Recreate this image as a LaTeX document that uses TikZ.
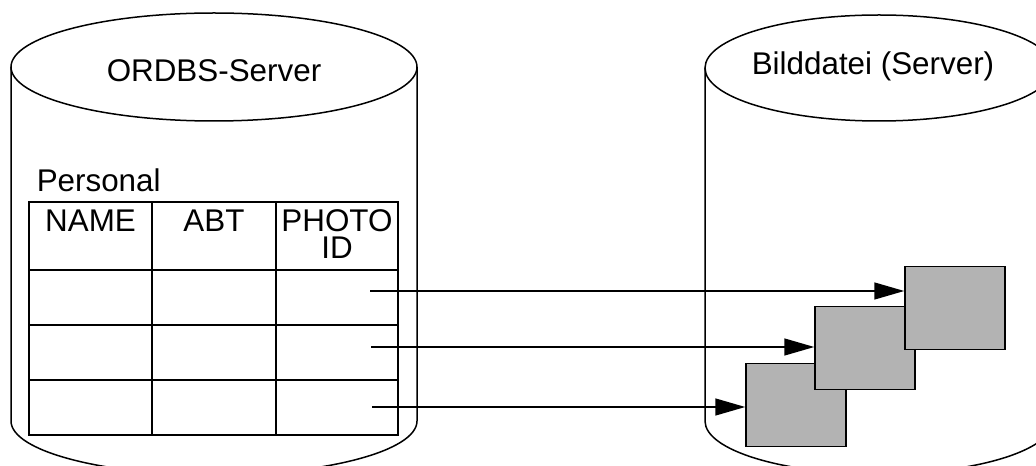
\documentclass[tikz,border=0pt]{standalone}
\usepackage{fontspec}
\setmainfont{Liberation Sans}
\usetikzlibrary{arrows.meta}
\tikzset{>={Triangle[width=17bp,length=30bp]}}
\definecolor{bildgrau}{HTML}{B3B3B3}
\tikzset{
	schrift/.style={font=\fontsize{31.5}{27}\selectfont, inner sep=0pt},
	bildbox/.style={draw, fill=bildgrau, minimum width=100bp, minimum height=83bp, inner sep=0pt},
}

\begin{document}
\begin{tikzpicture}[x=1bp, y=-1bp, line width=1.5bp]
		\clip (0,0) rectangle (1036,466);
		\begin{scope}
			%Zylinder ORDBS-Server
			\draw (214,67) ellipse [x radius=203, y radius=54];
			\draw (11,67) -- (11,421) arc[start angle=180, end angle=0, x radius=203, y radius=54] -- (417,67);
			\node[schrift, anchor=base] (ordbs) at (214,82) {ORDBS-Server};
			%Zylinder Bilddatei
			\draw (879,68) ellipse [x radius=174, y radius=53];
			\draw (705,68) -- (705,421) arc[start angle=180, end angle=0, x radius=174, y radius=53] -- (1053,68);
			\node[schrift, anchor=base] (bilddatei) at (873,75) {Bilddatei (Server)};
		\end{scope}
		%Tabelle Personal
		\node[schrift, anchor=base west] (personal) at (36,192) {Personal};
		\draw (29,202) rectangle (398,435);
		\foreach \y in {270,325,380} \draw (29,\y) -- (398,\y);
		\foreach \x in {152,276} \draw (\x,202) -- (\x,435);
		\node[schrift, anchor=base] (name) at (90.5,232) {NAME};
		\node[schrift, anchor=base] (abt) at (214,232) {ABT};
		\node[schrift, align=center, anchor=north] (photo) at (337,209) {PHOTO\\ID};
		%Bilder
		\node[bildbox] (bild1) at (796,405) {};
		\node[bildbox] (bild2) at (865,348) {};
		\node[bildbox] (bild3) at (955,308) {};
		%Verweise
		\coordinate (ref1) at (370,291);
		\coordinate (ref2) at (371,347);
		\coordinate (ref3) at (372,407);
		\draw[->] (ref1) -- (ref1 -| bild3.west);
		\draw[->] (ref2) -- (ref2 -| bild2.west);
		\draw[->] (ref3) -- (ref3 -| bild1.west);
	\end{tikzpicture}
\end{document}
